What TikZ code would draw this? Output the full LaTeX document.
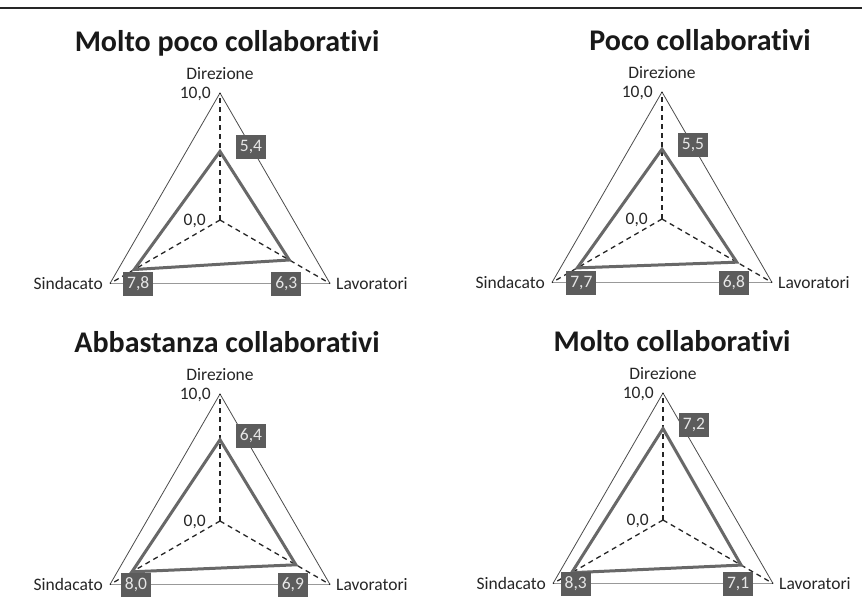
\documentclass[tikz,border=0pt]{standalone}
\usepackage{fontspec}
\setmainfont{Carlito}[Ligatures={NoCommon}]
\usetikzlibrary{calc}
\definecolor{serie}{HTML}{686868}
\definecolor{boxfill}{HTML}{5C5C5C}
\definecolor{boxtext}{HTML}{E6E6E6}
\definecolor{labtext}{HTML}{262626}
\tikzset{
  outer/.style={draw=black!70, line width=0.8pt},
  base/.style={draw=black!40, line width=1.4pt},
  axis/.style={draw=black!85, line width=1.3pt, dash pattern=on 5pt off 4pt},
  serie/.style={draw=serie, line width=3pt, line join=miter},
  valbox/.style={fill=boxfill, text=boxtext, inner sep=0pt, minimum width=30pt, minimum height=24pt,
     font=\fontsize{17.5}{20}\selectfont},
  lab/.style={text=labtext, inner sep=0pt, font=\fontsize{17.5}{20}\selectfont},
  ttl/.style={text=black!90, inner sep=0pt, font=\fontsize{30}{34}\selectfont\bfseries},
  rule/.style={draw=black!85, line width=1.5pt}
}
\begin{document}
\begin{tikzpicture}[x=1pt,y=-1pt]
\path[use as bounding box, fill=white] (0,0) rectangle (862,609);
\coordinate (r1) at (0,8);
\coordinate (r2) at (862,8);
\draw[rule] (r1) -- (r2);
\foreach \p/\cx/\cy/\tx/\ttl/\dv/\dt/\sv/\st/\lv/\lt in {
  A/220/220/227/Molto poco collaborativi/5.4/{5,4}/7.8/{7,8}/6.3/{6,3},
  B/662/219/700/Poco collaborativi/5.5/{5,5}/7.7/{7,7}/6.8/{6,8},
  C/220/521/227/Abbastanza collaborativi/6.4/{6,4}/8.0/{8,0}/6.9/{6,9},
  D/663/520/672/Molto collaborativi/7.2/{7,2}/8.3/{8,3}/7.1/{7,1}}{
  \begin{scope}[shift={(\cx,\cy)}]
    \coordinate (\p-c) at (0,0);
    \coordinate (\p-d) at (0,-127);
    \coordinate (\p-s) at (-110,63.5);
    \coordinate (\p-l) at (110,63.5);
    \coordinate (\p-pd) at (0,{-12.7*\dv});
    \coordinate (\p-ps) at ({-11*\sv},{6.35*\sv});
    \coordinate (\p-pl) at ({11*\lv},{6.35*\lv});
    \draw[outer] (\p-s) -- (\p-d) -- (\p-l);
    \draw[base] (\p-s) -- (\p-l);
    \draw[axis] (\p-c) -- (\p-d);
    \draw[axis] (\p-c) -- (\p-s);
    \draw[axis] (\p-c) -- (\p-l);
    \draw[serie] (\p-pd) -- (\p-pl) -- (\p-ps) -- cycle;
    \node[valbox] (\p-bd) at ([shift={(31,-4)}]\p-pd) {\dt};
    \node[valbox] (\p-bs) at ({-11*\sv+4},64) {\st};
    \node[valbox] (\p-bl) at ({11*\lv-3},64) {\lt};
    \node[lab] (\p-td) at (0,-146) {Direzione};
    \node[lab, anchor=east] (\p-t10) at (-9,-126) {10,0};
    \node[lab, anchor=east] (\p-t0) at (-14,1) {0,0};
    \node[lab, anchor=east] (\p-ts) at ([xshift=-7]\p-s) {Sindacato};
    \node[lab, anchor=west] (\p-tl) at ([xshift=6]\p-l) {Lavoratori};
    \node[ttl, anchor=base] (\p-title) at ({\tx-\cx},-168) {\ttl};
  \end{scope}
}
\end{tikzpicture}
\end{document}
